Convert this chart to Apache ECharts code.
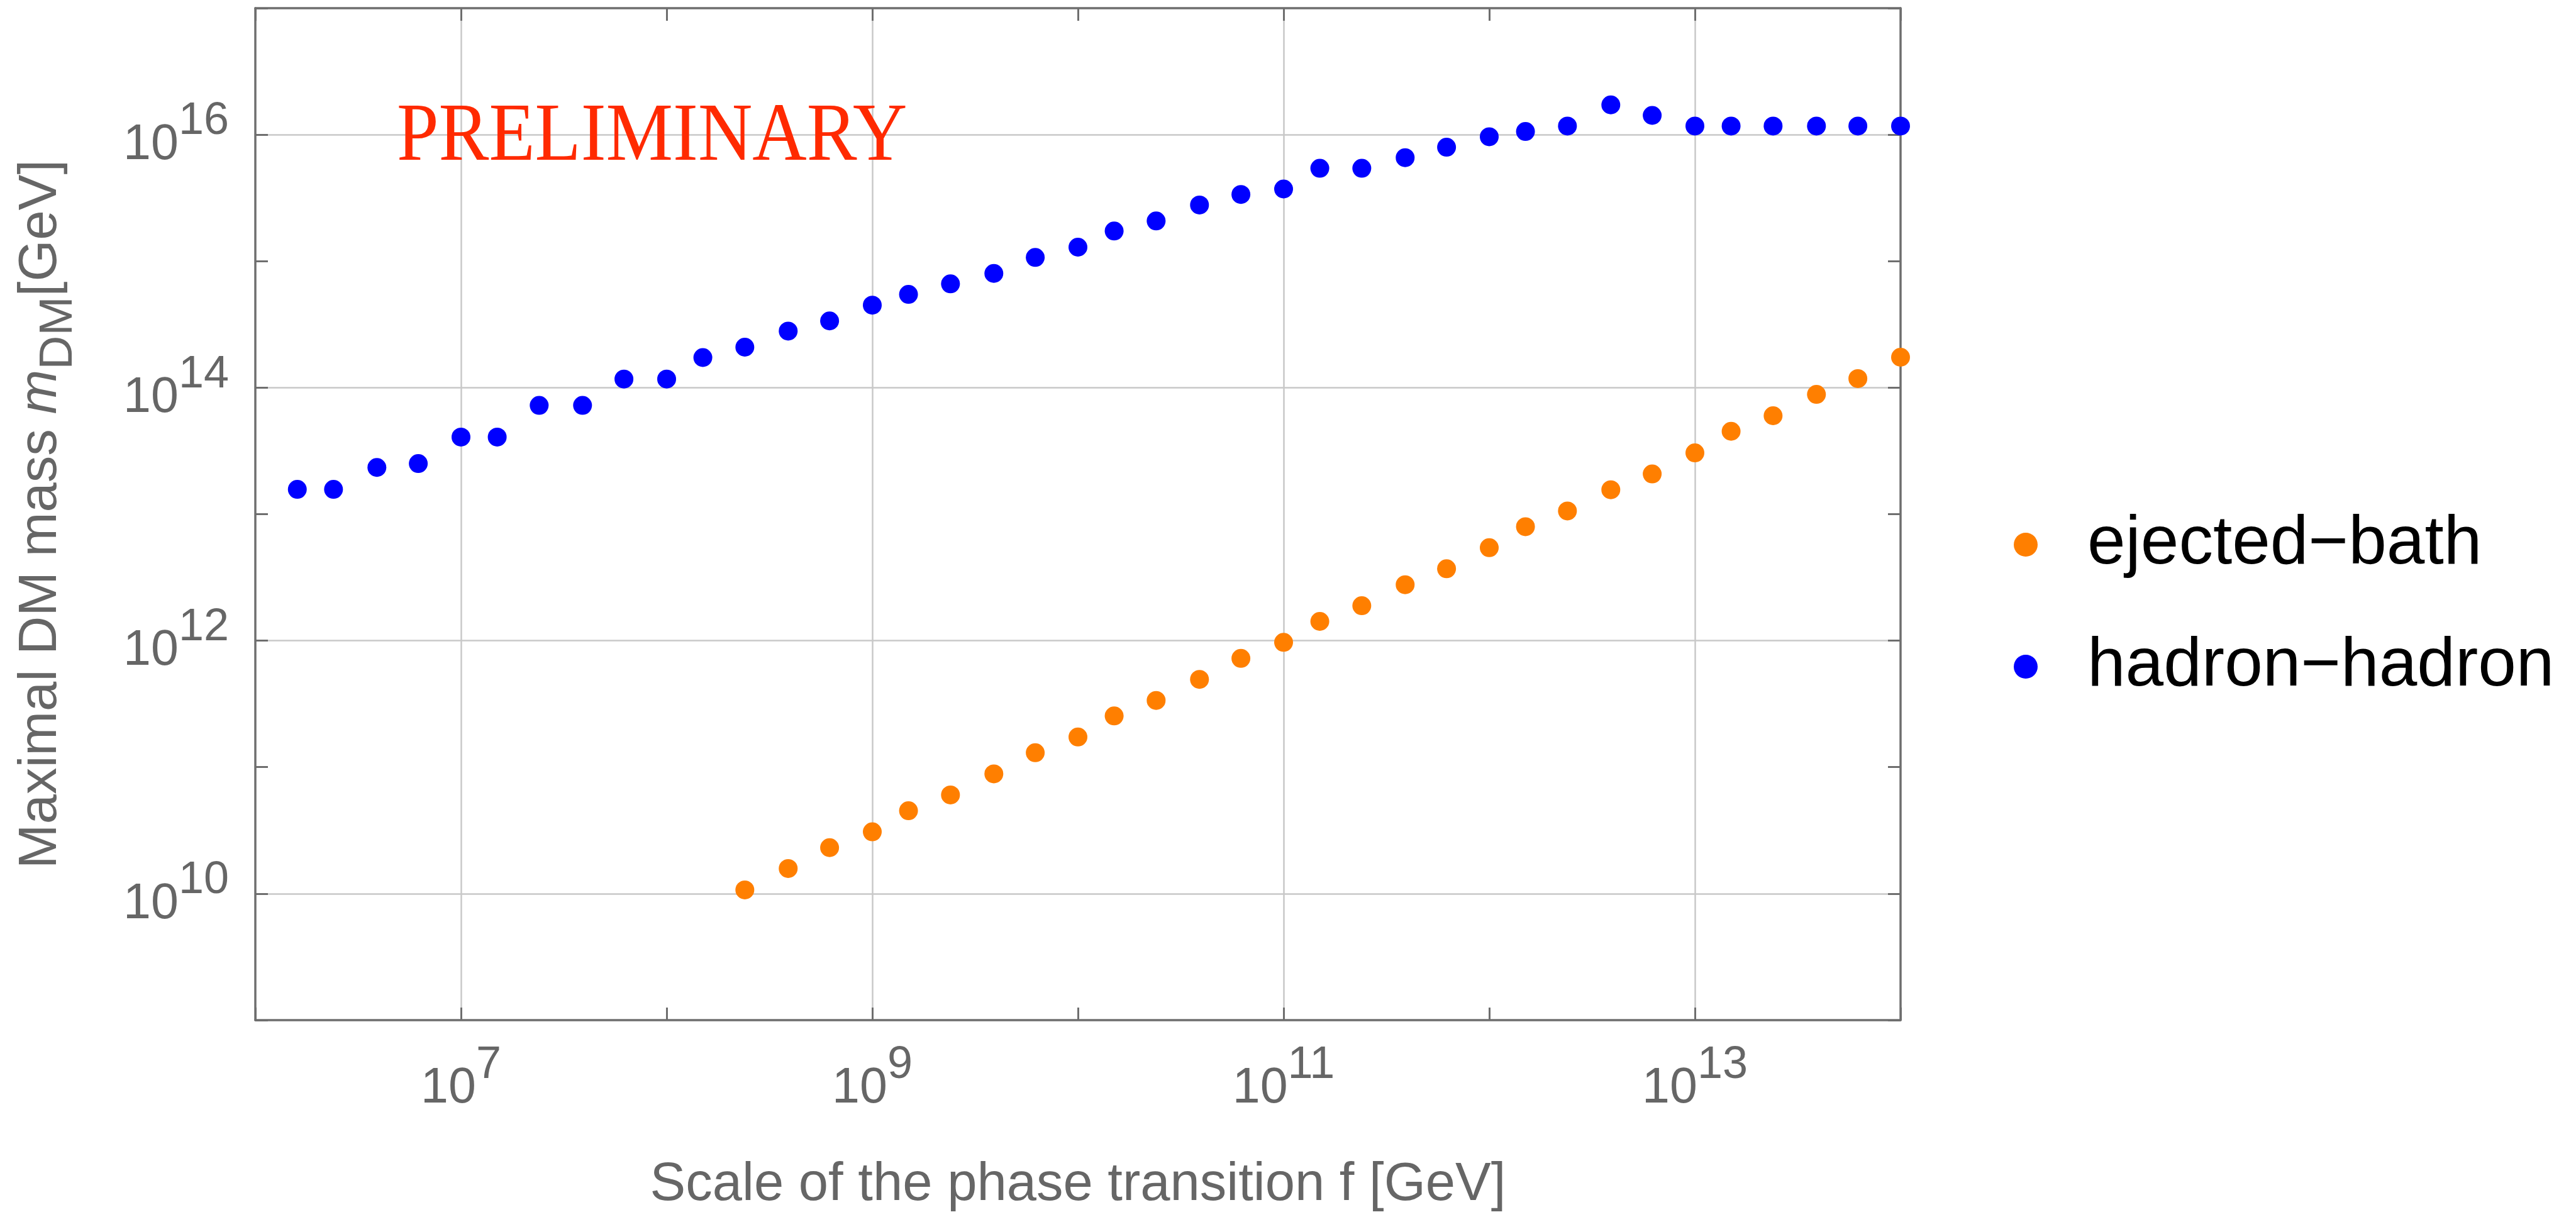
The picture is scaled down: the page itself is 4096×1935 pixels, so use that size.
<!DOCTYPE html>
<html>
<head>
<meta charset="utf-8">
<script src="https://cdn.jsdelivr.net/npm/echarts@6/dist/echarts.min.js"></script>
<style>
  html, body { margin: 0; padding: 0; background: #fff; }
  #chart { width: 4096px; height: 1935px; }
</style>
</head>
<body>
<div id="chart"></div>
<script>
// Scale of the phase transition f [GeV] for each point
const fHadron = [1.6e6, 2.4e6, 3.9e6, 6.2e6, 1e7, 1.5e7, 2.4e7, 3.9e7, 6.2e7, 1e8,
  1.5e8, 2.4e8, 3.9e8, 6.2e8, 1e9, 1.5e9, 2.4e9, 3.9e9, 6.2e9, 1e10,
  1.5e10, 2.4e10, 3.9e10, 6.2e10, 1e11, 1.5e11, 2.4e11, 3.9e11, 6.2e11, 1e12,
  1.5e12, 2.4e12, 3.9e12, 6.2e12, 1e13, 1.5e13, 2.4e13, 3.9e13, 6.2e13, 1e14];
// Maximal DM mass [GeV], hadron-hadron
const mHadron = [1.57e13, 1.57e13, 2.34e13, 2.51e13, 4.07e13, 4.07e13, 7.24e13, 7.24e13, 1.17e14, 1.17e14,
  1.73e14, 2.09e14, 2.8e14, 3.37e14, 4.49e14, 5.46e14, 6.62e14, 8.0e14, 1.07e15, 1.29e15,
  1.73e15, 2.08e15, 2.78e15, 3.37e15, 3.72e15, 5.42e15, 5.42e15, 6.58e15, 7.96e15, 9.63e15,
  1.06e16, 1.17e16, 1.72e16, 1.42e16, 1.17e16, 1.17e16, 1.17e16, 1.17e16, 1.17e16, 1.17e16];

const fEjected = [2.4e8, 3.9e8, 6.2e8, 1e9, 1.5e9, 2.4e9, 3.9e9, 6.2e9, 1e10,
  1.5e10, 2.4e10, 3.9e10, 6.2e10, 1e11, 1.5e11, 2.4e11, 3.9e11, 6.2e11, 1e12,
  1.5e12, 2.4e12, 3.9e12, 6.2e12, 1e13, 1.5e13, 2.4e13, 3.9e13, 6.2e13, 1e14];
// Maximal DM mass [GeV], ejected-bath
const mEjected = [1.07e10, 1.58e10, 2.31e10, 3.08e10, 4.52e10, 6.03e10, 8.85e10, 1.30e11, 1.73e11,
  2.54e11, 3.37e11, 4.94e11, 7.24e11, 9.7e11, 1.42e12, 1.89e12, 2.77e12, 3.70e12, 5.43e12,
  7.96e12, 1.06e13, 1.56e13, 2.08e13, 3.05e13, 4.52e13, 6.0e13, 8.85e13, 1.18e14, 1.74e14];

const seriesNames = ['ejected\u2212bath', 'hadron\u2212hadron'];
const seriesColors = ['#ff7f00', '#0000ff'];

// decades that get a label (and a grid line)
const xLabelExps = [7, 9, 11, 13];
const yLabelExps = [10, 12, 14, 16];

const font = '"Liberation Sans", Arial, Helvetica, sans-serif';
const frameGrey = '#6e6e6e';
const textGrey = '#666666';

const chart = echarts.init(document.getElementById('chart'), null, { renderer: 'canvas' });

// 10^n with a raised exponent
const powerLabel = (exps) => (value) => {
  const e = Math.round(Math.log10(value));
  return exps.includes(e) ? '{b|10}{s|' + e + '}' : '';
};
const labelRich = {
  b: { fontSize: 79, fontFamily: font, color: textGrey, verticalAlign: 'bottom' },
  s: { fontSize: 72, fontFamily: font, color: textGrey, verticalAlign: 'top' }
};

const frameLine = { onZero: false, lineStyle: { color: frameGrey, width: 3.5 } };
const innerTick = { inside: true, length: 20, lineStyle: { color: frameGrey, width: 3 } };
const gridLine = (show) => ({
  show,
  lineStyle: { color: ['rgba(0,0,0,0)', '#c8c8c8'], width: 2.5 }
});

const xBase = { type: 'log', logBase: 10, min: 1e6, max: 1e14, interval: 1 };
const yBase = { type: 'log', logBase: 10, min: 1e9, max: 1e17, interval: 1 };

const option = {
  animation: false,
  backgroundColor: '#fff',
  grid: { left: 406, right: 1074, top: 13, bottom: 313, containLabel: false, outerBoundsMode: 'none' },
  xAxis: [
    Object.assign({}, xBase, {
      position: 'bottom',
      name: 'Scale of the phase transition f [GeV]',
      nameLocation: 'middle',
      nameGap: 220,
      nameTextStyle: { fontSize: 85, fontFamily: font, color: textGrey },
      axisLine: frameLine,
      axisTick: innerTick,
      axisLabel: { formatter: powerLabel(xLabelExps), margin: 36, lineHeight: 113, rich: labelRich },
      splitLine: gridLine(true)
    }),
    Object.assign({}, xBase, {
      position: 'top',
      axisLine: frameLine,
      axisTick: innerTick,
      axisLabel: { show: false },
      splitLine: gridLine(false)
    })
  ],
  yAxis: [
    Object.assign({}, yBase, {
      position: 'left',
      name: '{n|Maximal DM mass }{i|m}{d|DM}{n|[GeV]}',
      nameLocation: 'middle',
      nameGap: 275,
      nameTextStyle: {
        lineHeight: 108,
        rich: {
          n: { fontSize: 85, fontFamily: font, color: textGrey, verticalAlign: 'top' },
          i: { fontSize: 85, fontFamily: font, fontStyle: 'italic', color: textGrey, verticalAlign: 'top' },
          d: { fontSize: 75, fontFamily: font, color: textGrey, verticalAlign: 'bottom' }
        }
      },
      axisLine: frameLine,
      axisTick: innerTick,
      axisLabel: { formatter: powerLabel(yLabelExps), margin: 42, lineHeight: 113, rich: labelRich },
      splitLine: gridLine(true)
    }),
    Object.assign({}, yBase, {
      position: 'right',
      axisLine: frameLine,
      axisTick: innerTick,
      axisLabel: { show: false },
      splitLine: gridLine(false)
    })
  ],
  legend: {
    orient: 'vertical',
    left: 3202,
    top: 806,
    padding: 0,
    itemGap: 74,
    itemWidth: 38,
    itemHeight: 38,
    icon: 'circle',
    itemStyle: { opacity: 1 },
    textStyle: { fontSize: 109, fontFamily: font, color: '#000', lineHeight: 120, padding: [0, 0, 0, 74] },
    data: seriesNames
  },
  graphic: [{
    type: 'text',
    x: 631,
    y: 219,
    scaleX: 0.907,
    z: 10,
    style: {
      text: 'PRELIMINARY',
      font: '132px "Liberation Serif", "Times New Roman", serif',
      fill: '#ff2a00',
      align: 'left',
      verticalAlign: 'middle'
    }
  }],
  series: [
    {
      name: seriesNames[0],
      type: 'scatter',
      symbol: 'circle',
      symbolSize: 30,
      itemStyle: { color: seriesColors[0], opacity: 1 },
      data: fEjected.map((f, i) => [f, mEjected[i]])
    },
    {
      name: seriesNames[1],
      type: 'scatter',
      symbol: 'circle',
      symbolSize: 30,
      itemStyle: { color: seriesColors[1], opacity: 1 },
      data: fHadron.map((f, i) => [f, mHadron[i]])
    }
  ]
};

chart.setOption(option);
</script>
</body>
</html>
